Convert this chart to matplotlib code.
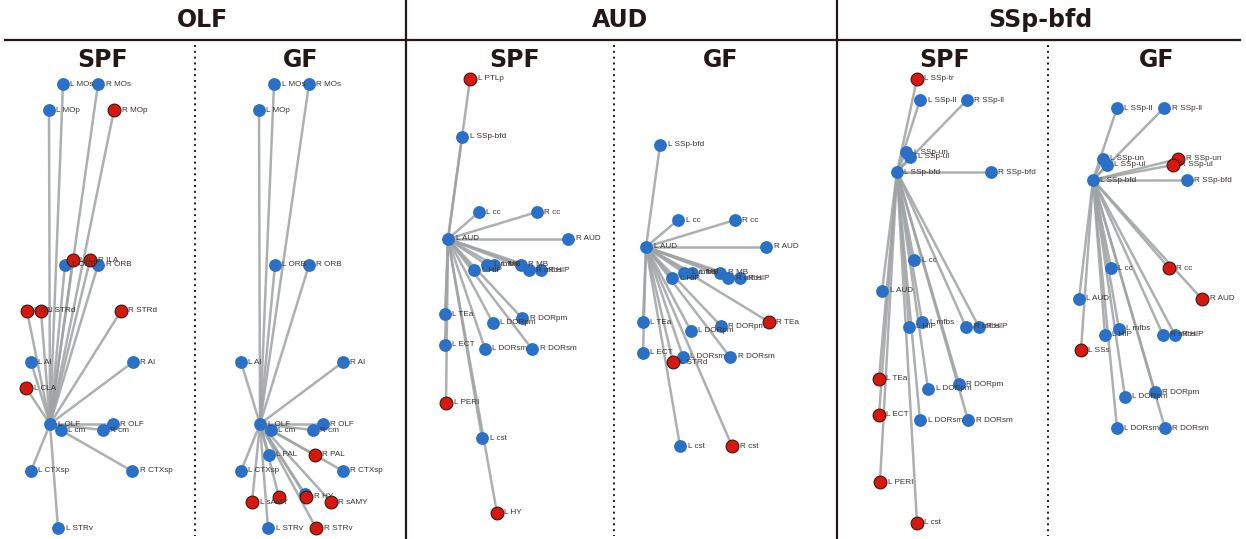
import matplotlib
matplotlib.use("Agg")
import matplotlib.pyplot as plt

# node layouts for each network: (label, x, y); the first node is the hub
olf_spf = [("L OLF", 50, 424), ("L MOs", 63, 84), ("R MOs", 98, 84), ("L MOp", 49, 110),
           ("R MOp", 114, 110), ("L ORB", 65, 265), ("R ORB", 98, 265), ("L ILA", 73, 260),
           ("R ILA", 90, 260), ("L GU", 27, 311), ("L STRd", 41, 311), ("R STRd", 121, 311),
           ("L AI", 31, 362), ("R AI", 133, 362), ("L CLA", 26, 388), ("R OLF", 113, 424),
           ("L cm", 61, 430), ("R cm", 103, 430), ("L CTXsp", 31, 471), ("R CTXsp", 132, 471),
           ("L STRv", 58, 528)]
olf_spf_red = ["R MOp", "L ILA", "R ILA", "L GU", "L STRd", "R STRd", "L CLA"]

olf_gf = [("L OLF", 260, 424), ("L MOs", 274, 84), ("R MOs", 309, 84), ("L MOp", 259, 110),
          ("L ORB", 275, 265), ("R ORB", 309, 265), ("L AI", 241, 362), ("R AI", 343, 362),
          ("R OLF", 323, 424), ("L cm", 271, 430), ("R cm", 313, 430), ("L PAL", 269, 455),
          ("R PAL", 315, 455), ("L CTXsp", 241, 471), ("R CTXsp", 343, 471), ("L sAMY", 252, 502),
          ("L HY", 279, 497), ("L MB", 305, 494), ("R HY", 306, 497), ("R sAMY", 331, 502),
          ("L STRv", 268, 528), ("R STRv", 316, 528)]
olf_gf_red = ["R PAL", "L sAMY", "L HY", "R HY", "R sAMY", "R STRv"]

aud_spf = [("L AUD", 448, 239), ("L PTLp", 470, 79), ("L SSp-bfd", 462, 137), ("L cc", 479, 212),
           ("R cc", 537, 212), ("R AUD", 568, 239), ("L HIP", 474, 270), ("L mfbs", 487, 265),
           ("L MB", 494, 265), ("R MB", 521, 265), ("R mfbs", 529, 270), ("R HIP", 541, 270),
           ("L TEa", 445, 314), ("L DORpm", 493, 323), ("R DORpm", 522, 318), ("L ECT", 445, 345),
           ("L DORsm", 485, 349), ("R DORsm", 532, 349), ("L PERI", 446, 403), ("L cst", 482, 438),
           ("L HY", 497, 513)]
aud_spf_red = ["L PTLp", "L PERI", "L HY"]

aud_gf = [("L AUD", 646, 247), ("L SSp-bfd", 660, 145), ("L cc", 678, 220), ("R cc", 735, 220),
          ("R AUD", 766, 247), ("L HIP", 672, 278), ("L mfbs", 684, 273), ("L MB", 692, 273),
          ("R MB", 720, 273), ("R mfbs", 728, 278), ("R HIP", 740, 278), ("L TEa", 643, 322),
          ("R TEa", 769, 322), ("L DORpm", 691, 331), ("R DORpm", 721, 326), ("L ECT", 643, 353),
          ("L DORsm", 683, 357), ("L STRd", 673, 362), ("R DORsm", 730, 357), ("L cst", 680, 446),
          ("R cst", 732, 446)]
aud_gf_red = ["R TEa", "L STRd", "R cst"]

ssp_spf = [("L SSp-bfd", 897, 172), ("L SSp-tr", 917, 79), ("L SSp-ll", 920, 100),
           ("R SSp-ll", 967, 100), ("L SSp-un", 906, 152), ("L SSp-ul", 910, 157),
           ("R SSp-bfd", 991, 172), ("L cc", 914, 260), ("L AUD", 882, 291), ("L HIP", 909, 327),
           ("L mfbs", 922, 322), ("R mfbs", 966, 327), ("R HIP", 979, 327), ("L TEa", 879, 379),
           ("L DORpm", 928, 389), ("R DORpm", 959, 384), ("L ECT", 879, 415), ("L DORsm", 920, 420),
           ("R DORsm", 968, 420), ("L PERI", 880, 482), ("L cst", 917, 523)]
ssp_spf_red = ["L SSp-tr", "L TEa", "L ECT", "L PERI", "L cst"]

ssp_gf = [("L SSp-bfd", 1093, 180), ("L SSp-ll", 1117, 108), ("R SSp-ll", 1164, 108),
          ("L SSp-un", 1103, 159), ("L SSp-ul", 1107, 165), ("R SSp-un", 1178, 159),
          ("R SSp-ul", 1173, 165), ("R SSp-bfd", 1187, 180), ("L cc", 1111, 268), ("R cc", 1169, 268),
          ("L AUD", 1079, 299), ("R AUD", 1202, 299), ("L mfbs", 1119, 329), ("L HIP", 1105, 335),
          ("R mfbs", 1163, 335), ("R HIP", 1175, 335), ("L SSs", 1081, 350), ("R DORpm", 1155, 392),
          ("L DORpm", 1125, 397), ("L DORsm", 1117, 428), ("R DORsm", 1165, 428)]
ssp_gf_red = ["R SSp-un", "R SSp-ul", "R cc", "R AUD", "L SSs"]

# nodes whose labels are hidden in the figure
hidden = {("L HY", 279), ("L MB", 305)}

regions = ["OLF", "AUD", "SSp-bfd"]
region_x = [202, 620, 1040]
groups = ["SPF", "GF", "SPF", "GF", "SPF", "GF"]
group_x = [103, 301, 515, 721, 945, 1157]

BLUE = "#2a70c6"
RED = "#d8170f"
INK = "#231815"
EDGE = "#9ea3a3"

fig = plt.figure(figsize=(12.46, 5.39), dpi=100)
ax = fig.add_axes([0, 0, 1, 1])
ax.set_xlim(0, 1246)
ax.set_ylim(539, 0)
ax.axis("off")


def draw_net(nodes, red):
    hub = nodes[0]
    for name, x, y in nodes[1:]:
        ax.plot([hub[1], x], [hub[2], y], color=EDGE, lw=1.8, alpha=0.85,
                solid_capstyle="round", zorder=1)
    for name, x, y in nodes:
        if name in red:
            ax.scatter(x, y, s=85, color=RED, edgecolor="#3a1a12", linewidth=0.8, zorder=3)
        else:
            ax.scatter(x, y, s=85, color=BLUE, linewidth=0, zorder=3)
    for name, x, y in nodes:
        if (name, x) in hidden:
            continue
        ax.text(x + 7.5, y, name, fontsize=5.9, color="#3b3330", va="center", ha="left",
                family="Liberation Sans", zorder=4)


for nodes, red in [(olf_spf, olf_spf_red), (olf_gf, olf_gf_red), (aud_spf, aud_spf_red),
                   (aud_gf, aud_gf_red), (ssp_spf, ssp_spf_red), (ssp_gf, ssp_gf_red)]:
    draw_net(nodes, red)

# frame lines
ax.plot([5, 1240], [40, 40], color=INK, lw=1.6)
for x in [406, 837]:
    ax.plot([x, x], [0, 539], color=INK, lw=1.6)
for x in [195, 614, 1048]:
    ax.plot([x, x], [45, 536], color=INK, lw=1.4, linestyle=(0, (1, 2)))

for name, x in zip(regions, region_x):
    ax.text(x, 20, name, fontsize=17, fontweight="bold", color=INK, ha="center", va="center",
            family="DejaVu Sans")
for name, x in zip(groups, group_x):
    ax.text(x, 60, name, fontsize=17, fontweight="bold", color=INK, ha="center", va="center",
            family="DejaVu Sans")

fig.savefig("out.png", dpi=100)
